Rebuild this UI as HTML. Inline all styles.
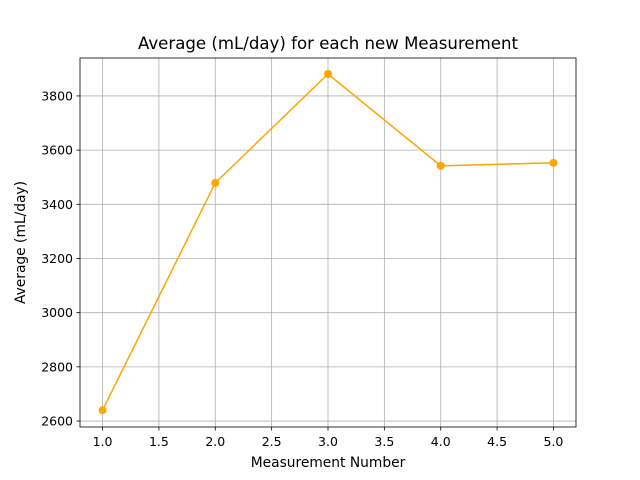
<!DOCTYPE html>
<html><head><meta charset="utf-8"><style>
body{margin:0;background:#fff;}
svg{display:block;font-family:"DejaVu Sans","Liberation Sans",sans-serif;}
</style></head><body>
<svg id="chart" width="640" height="480">
<rect width="640" height="480" fill="#fff"/>
</svg>
<script>
const xTicks = [1.0,1.5,2.0,2.5,3.0,3.5,4.0,4.5,5.0];
const xTickLabels = ["1.0","1.5","2.0","2.5","3.0","3.5","4.0","4.5","5.0"];
const yTicks = [2600,2800,3000,3200,3400,3600,3800];
const yTickLabels = ["2600","2800","3000","3200","3400","3600","3800"];
const measurements = [1,2,3,4,5];
const averages = [2640,3479,3881,3542,3553];

const L=80,R=576,T=58,B=427;
const xMin=0.8,xMax=5.2,yMin=2578,yMax=3940;
const sx=v=>L+(v-xMin)/(xMax-xMin)*(R-L);
const sy=v=>B-(v-yMin)/(yMax-yMin)*(B-T);
const svg=document.getElementById('chart');
const NS='http://www.w3.org/2000/svg';
function mk(tag,attrs,text){const e=document.createElementNS(NS,tag);for(const k in attrs)e.setAttribute(k,attrs[k]);if(text!==undefined)e.textContent=text;svg.appendChild(e);return e;}

xTicks.forEach((t,i)=>{
  const x=sx(t);
  const g=mk('line',{x1:x,x2:x,y1:T,y2:B,stroke:'#b0b0b0','stroke-width':0.8});
  
  
  const tk=mk('line',{x1:x,x2:x,y1:B,y2:B+3.5,stroke:'#000','stroke-width':0.8});
  
  
  const lb=mk('text',{x:x,y:B+19,'text-anchor':'middle','font-size':12.5,fill:'#000'},xTickLabels[i]);
  
  
});
yTicks.forEach((t,i)=>{
  const y=sy(t);
  const g=mk('line',{x1:L,x2:R,y1:y,y2:y,stroke:'#b0b0b0','stroke-width':0.8});
  
  
  const tk=mk('line',{x1:L-3.5,x2:L,y1:y,y2:y,stroke:'#000','stroke-width':0.8});
  
  
  const lb=mk('text',{x:L-7,y:y+4.5,'text-anchor':'end','font-size':12.5,fill:'#000'},yTickLabels[i]);
  
  
});
const pts=measurements.map((m,i)=>sx(m)+','+sy(averages[i])).join(' ');
const line=mk('polyline',{points:pts,fill:'none',stroke:'#ffa500','stroke-width':1.5});


measurements.forEach((m,i)=>{
  const c=mk('circle',{cx:sx(m),cy:sy(averages[i]),r:4,fill:'#ffa500'});
  
  
});
const frame=mk('rect',{x:L,y:T,width:R-L,height:B-T,fill:'none',stroke:'#000','stroke-width':0.8});


const title=mk('text',{x:(L+R)/2,y:49,'text-anchor':'middle','font-size':16.6,fill:'#000'},'Average (mL/day) for each new Measurement');


const xl=mk('text',{x:(L+R)/2,y:467,'text-anchor':'middle','font-size':13.8,fill:'#000'},'Measurement Number');


const yl=mk('text',{x:0,y:0,'text-anchor':'middle','font-size':13.8,fill:'#000',transform:'translate(25,'+((T+B)/2)+') rotate(-90)'},'Average (mL/day)');


</script>
</body></html>
